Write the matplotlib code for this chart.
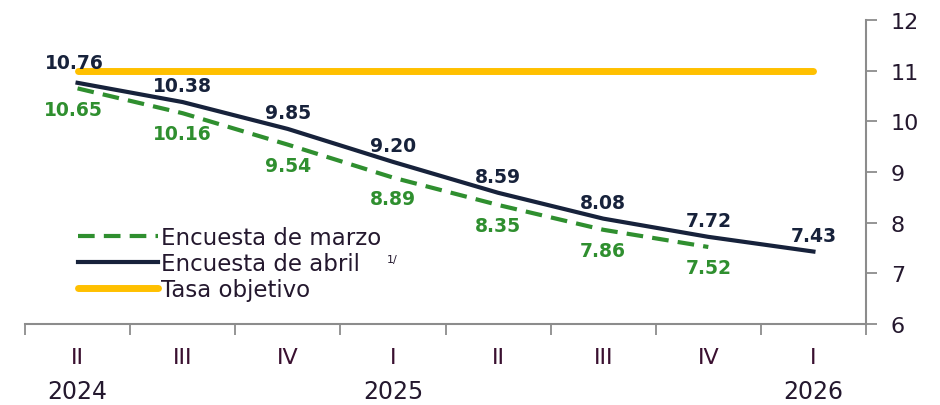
import matplotlib
matplotlib.use("Agg")
import matplotlib.pyplot as plt
import numpy as np

quarters = ['II', 'III', 'IV', 'I', 'II', 'III', 'IV', 'I']
years = {0: '2024', 3: '2025', 7: '2026'}
marzo = [10.65, 10.16, 9.54, 8.89, 8.35, 7.86, 7.52]
abril = [10.76, 10.38, 9.85, 9.20, 8.59, 8.08, 7.72, 7.43]
tasa = [11.0] * 8

navy = '#17223b'
green = '#2f8f2f'
orange = '#ffc000'
gray = '#8c8c8c'
txt = '#24182e'

plt.rcParams['font.family'] = ['DejaVu Sans']

fig = plt.figure(figsize=(9.4, 4.06), dpi=100)
ax = fig.add_axes([25 / 940, 1 - 325 / 406, (866 - 25) / 940, (325 - 21) / 406])

x = np.arange(len(quarters)) + 0.5
ax.plot(x[:len(marzo)], marzo, color=green, lw=3, ls=(0, (4, 2.2)), label='Encuesta de marzo')
ax.plot(x, abril, color=navy, lw=3, label='Encuesta de abril')
ax.plot(x, tasa, color=orange, lw=5, solid_capstyle='round', label='Tasa objetivo')

# data labels
for i, v in enumerate(abril):
    ax.annotate(f'{v:.2f}', (x[i], v), xytext=(-2, 8) if i == 0 else (0, 5),
                textcoords='offset points', ha='center', va='bottom', color=navy,
                fontsize=13.5, fontweight='bold')
for i, v in enumerate(marzo):
    ax.annotate(f'{v:.2f}', (x[i], v), xytext=(-3 if i == 0 else 0, -8), textcoords='offset points',
                ha='center', va='top', color=green, fontsize=13.5, fontweight='bold')

ax.set_xlim(0, len(quarters))
ax.set_ylim(6, 12)
ax.set_yticks(range(6, 13))
ax.yaxis.tick_right()
ax.tick_params(axis='y', direction='out', length=8, width=1.3, color=gray, labelsize=16, pad=10,
               labelcolor=txt)

ax.set_xticks(np.arange(len(quarters) + 1))
ax.set_xticklabels([])
ax.tick_params(axis='x', direction='out', length=8, width=1.3, color=gray)
for i, q in enumerate(quarters):
    ax.text(x[i], -0.11, q, transform=ax.get_xaxis_transform(), ha='center', va='center',
            fontsize=16, color='#3a1030')
    if i in years:
        ax.text(x[i], -0.22, years[i], transform=ax.get_xaxis_transform(), ha='center',
                va='center', fontsize=17, color=txt)

for s in ['top', 'left']:
    ax.spines[s].set_visible(False)
for s in ['bottom', 'right']:
    ax.spines[s].set_color(gray)
    ax.spines[s].set_linewidth(1.5)

leg = ax.legend(loc='lower left', bbox_to_anchor=(0.063, 0.075), frameon=False, fontsize=16.5,
                handlelength=3.5, handletextpad=0.12, labelspacing=0.13, borderpad=0,
                borderaxespad=0)
for t in leg.get_texts():
    t.set_color(txt)
ax.text(0.43, 0.215, '1/', transform=ax.transAxes, fontsize=8, color=txt, va='center')

fig.savefig('out.png', dpi=100)
